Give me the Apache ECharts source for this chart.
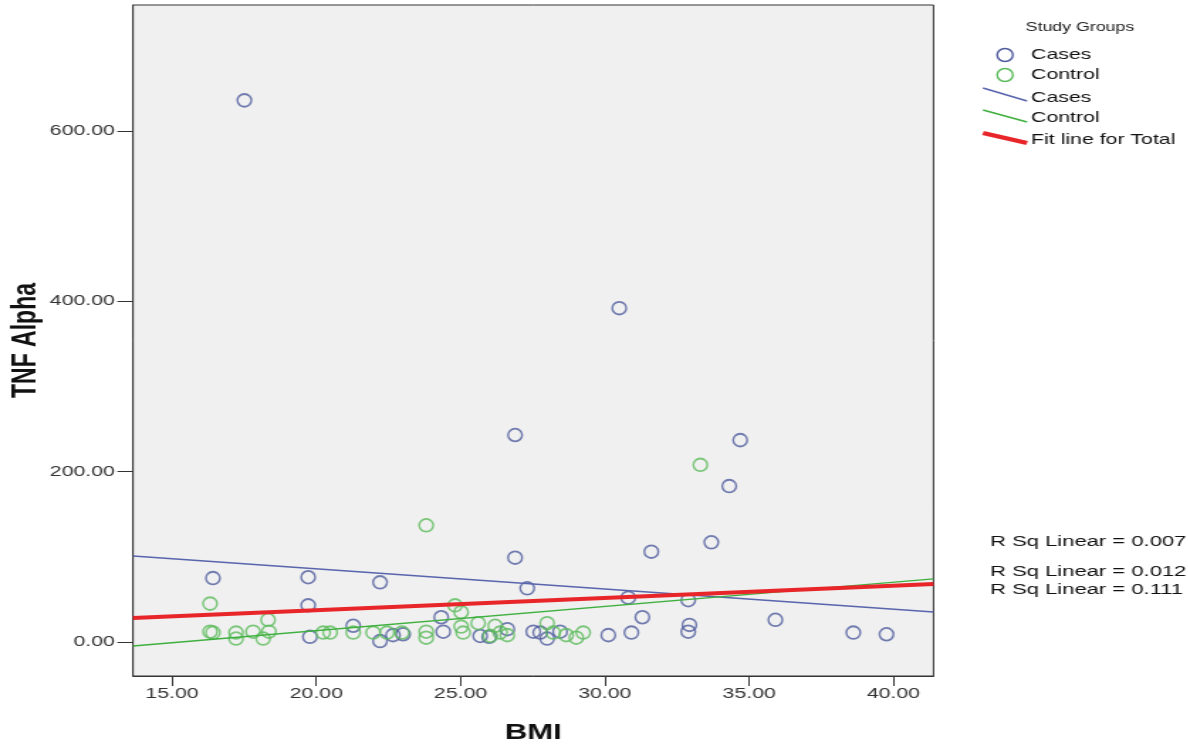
<!DOCTYPE html>
<html>
<head>
<meta charset="utf-8">
<script src="https://cdn.jsdelivr.net/npm/echarts@6/dist/echarts.min.js"></script>
<style>
html,body{margin:0;padding:0;background:#fff;overflow:hidden;width:1188px;height:745px;}
#c{height:745px;transform-origin:0 0;}
</style>
</head>
<body>
<div id="c"></div>
<script>
// ---- data ----
const casesBMI = [17.51, 30.50, 26.89, 34.69, 34.31, 33.69, 31.61, 26.89, 27.31, 30.81,
  32.89, 16.42, 19.72, 22.21, 19.72, 31.30, 35.91, 38.61, 39.76, 32.93,
  32.89, 19.78, 21.28, 22.21, 22.66, 23.01, 24.33, 24.40, 25.68, 25.99,
  26.62, 27.52, 27.76, 28.00, 28.45, 30.12, 30.92];
const casesTNF = [636, 392, 243, 237, 183, 117, 106, 99, 63, 52,
  49, 75, 76, 70, 43, 29, 26, 11, 9, 20,
  12, 6, 19, 1, 8, 9, 29, 12, 7, 6,
  15, 12, 11, 4, 12, 8, 11];
const controlBMI = [33.31, 23.81, 16.32, 24.81, 25.02, 18.33, 16.32, 16.42, 17.22, 17.22,
  17.81, 18.16, 18.36, 20.24, 20.48, 21.28, 21.97, 22.45, 22.97, 23.81,
  23.81, 25.02, 25.09, 25.61, 26.03, 26.20, 26.37, 26.62, 28.00, 28.21,
  28.66, 29.01, 29.25];
const controlTNF = [208, 137, 45, 43, 35, 26, 12, 11, 11, 4,
  12, 4, 12, 11, 11, 11, 11, 11, 11, 12,
  5, 18, 11, 22, 7, 19, 11, 8, 22, 11,
  8, 5, 11];
const fitX = [13.65, 41.39];
const fitCasesY = [101, 35.2];
const fitControlY = [-4.7, 74];
const fitTotalY = [28.2, 68.1];
const xTicks = [15, 20, 25, 30, 35, 40];
const yTicks = [0, 200, 400, 600];
const xRange = [13.65, 41.39];
const yRange = [-40, 748];
const legendTitle = 'Study Groups';
const legendLabels = ['Cases', 'Control', 'Cases', 'Control', 'Fit line for Total'];
const rSqLabels = ['R Sq Linear = 0.007', 'R Sq Linear = 0.012', 'R Sq Linear = 0.111'];
const xName = 'BMI';
const yName = 'TNF Alpha';

// ---- layout / style ----
const S = 1.42; // horizontal stretch of the original picture
const W = 1188 / S;
const el = document.getElementById('c');
el.style.width = W + 'px';
el.style.transform = 'scaleX(' + S + ')';

const BLUE = '#4f5c9e', BLUE_L = '#5965ad', GREEN = '#5cbc5c', GREEN_L = '#3fb03f', RED = '#e8262a';
const FONT = '"Liberation Sans", Arial, sans-serif';
const pts = (xs, ys) => xs.map((x, i) => [x, ys[i]]);

const chart = echarts.init(el, null, {renderer: 'canvas'});
const sx = v => v / S;

const graphic = [
  {type: 'text', x: sx(1080), y: 28, style: {text: legendTitle, font: '12.5px ' + FONT, fill: '#222', align: 'center', verticalAlign: 'middle'}},
  {type: 'circle', x: sx(1005), y: 55, scaleX: 0.85, shape: {cx: 0, cy: 0, r: 6.5}, style: {fill: 'none', stroke: BLUE, lineWidth: 1.6}},
  {type: 'circle', x: sx(1005), y: 75, scaleX: 0.85, shape: {cx: 0, cy: 0, r: 6.5}, style: {fill: 'none', stroke: GREEN, lineWidth: 1.6}},
  {type: 'line', shape: {x1: sx(983), y1: 88, x2: sx(1027), y2: 101}, style: {stroke: BLUE_L, lineWidth: 1.4}},
  {type: 'line', shape: {x1: sx(983), y1: 110, x2: sx(1027), y2: 122}, style: {stroke: GREEN_L, lineWidth: 1.4}},
  {type: 'line', shape: {x1: sx(983), y1: 133, x2: sx(1027), y2: 143}, style: {stroke: RED, lineWidth: 4}}
];
const legendY = [55, 75, 98, 118, 140];
legendLabels.forEach((t, i) => graphic.push({type: 'text', x: sx(1031), y: legendY[i],
  style: {text: t, font: '15px ' + FONT, fill: '#111', verticalAlign: 'middle'}}));
const rSqY = [542, 572, 590];
rSqLabels.forEach((t, i) => graphic.push({type: 'text', x: sx(990), y: rSqY[i],
  style: {text: t, font: '15.5px ' + FONT, fill: '#111', verticalAlign: 'middle'}}));

const scatterStyle = c => ({color: 'rgba(0,0,0,0)', borderColor: c, borderWidth: 1.6});
const symSize = [14 / S, 12.7];

chart.setOption({
  animation: false,
  backgroundColor: '#fff',
  grid: {left: sx(133), right: sx(1188 - 933), top: 5, bottom: 69, show: true,
    containLabel: false, outerBoundsMode: 'none',
    backgroundColor: '#f0f0f0', borderColor: '#333', borderWidth: 1},
  xAxis: {
    type: 'value', min: xRange[0], max: xRange[1],
    name: xName, nameLocation: 'middle', nameGap: 46, nameMoveOverlap: false,
    nameTextStyle: {fontFamily: FONT, fontSize: 22, fontWeight: 'bold', color: '#111'},
    axisLine: {show: true, onZero: false, lineStyle: {color: '#333', width: 1}},
    axisTick: {show: true, length: 10, customValues: xTicks, lineStyle: {color: '#333', width: 1}},
    axisLabel: {customValues: xTicks, margin: 10, fontFamily: FONT, fontSize: 15, color: '#333',
      formatter: v => v.toFixed(2)},
    splitLine: {show: false}
  },
  yAxis: {
    type: 'value', min: yRange[0], max: yRange[1],
    name: yName, nameLocation: 'middle', nameGap: 63.5, nameRotate: 90, nameMoveOverlap: false,
    nameTextStyle: {fontFamily: FONT, fontSize: 23, fontWeight: 'bold', color: '#111'},
    axisLine: {show: true, onZero: false, lineStyle: {color: '#333', width: 1}},
    axisTick: {show: true, length: 11, customValues: yTicks, lineStyle: {color: '#333', width: 1}},
    axisLabel: {customValues: yTicks, margin: 12.7, fontFamily: FONT, fontSize: 15, color: '#333',
      formatter: v => v.toFixed(2)},
    splitLine: {show: false}
  },
  graphic: graphic,
  series: [
    {name: 'Cases', type: 'scatter', data: pts(casesBMI, casesTNF), symbol: 'circle',
      symbolSize: symSize, itemStyle: scatterStyle(BLUE), z: 2},
    {name: 'Control', type: 'scatter', data: pts(controlBMI, controlTNF), symbol: 'circle',
      symbolSize: symSize, itemStyle: scatterStyle(GREEN), z: 2},
    {name: 'Cases fit', type: 'line', data: pts(fitX, fitCasesY), showSymbol: false, symbol: 'none',
      lineStyle: {color: BLUE_L, width: 1.4}, z: 3},
    {name: 'Control fit', type: 'line', data: pts(fitX, fitControlY), showSymbol: false, symbol: 'none',
      lineStyle: {color: GREEN_L, width: 1.4}, z: 3},
    {name: 'Fit line for Total', type: 'line', data: pts(fitX, fitTotalY), showSymbol: false, symbol: 'none',
      lineStyle: {color: RED, width: 4}, z: 4}
  ]
});
</script>
</body>
</html>
